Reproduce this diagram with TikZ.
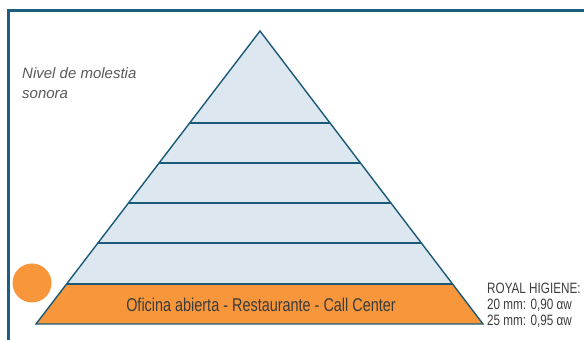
\documentclass[tikz,border=0pt]{standalone}
\usepackage{fontspec}
\setmainfont{Liberation Sans}
\newfontfamily\condfont[FakeStretch=0.78]{Liberation Sans}
\usetikzlibrary{calc}
\definecolor{frameblue}{HTML}{1B5E80}
\definecolor{lineblue}{HTML}{1A5A78}
\definecolor{paleblue}{HTML}{DCE7EF}
\definecolor{bandorange}{HTML}{F7963A}
\definecolor{textgray}{HTML}{3C3C3C}
\tikzset{
  layerline/.style={draw=lineblue, line width=1.4pt},
  condtext/.style={text=textgray, font=\condfont, inner sep=0pt}
}
\begin{document}
\begin{tikzpicture}[x=1pt, y=1pt]
\useasboundingbox (0,0) rectangle (584,340);
% frame
\draw[frameblue, line width=3pt] (8,0) -- (8,329) -- (584,329);
% pyramid corners
\coordinate (apex) at (260,309);
\coordinate (bl) at (36,16);
\coordinate (br) at (483,16);
\coordinate (l5) at ($(bl)!0.686!(apex)$);
\coordinate (r5) at ($(br)!0.686!(apex)$);
\coordinate (l4) at ($(bl)!0.5495!(apex)$);
\coordinate (r4) at ($(br)!0.5495!(apex)$);
\coordinate (l3) at ($(bl)!0.413!(apex)$);
\coordinate (r3) at ($(br)!0.413!(apex)$);
\coordinate (l2) at ($(bl)!0.2765!(apex)$);
\coordinate (r2) at ($(br)!0.2765!(apex)$);
\coordinate (l1) at ($(bl)!0.1365!(apex)$);
\coordinate (r1) at ($(br)!0.1365!(apex)$);
\fill[paleblue] (apex) -- (bl) -- (br) -- cycle;
\fill[bandorange] (l1) -- (bl) -- (br) -- (r1) -- cycle;
\draw[layerline, line join=miter] (apex) -- (bl) -- (br) -- cycle;
\draw[layerline] (l5) -- (r5);
\draw[layerline] (l4) -- (r4);
\draw[layerline] (l3) -- (r3);
\draw[layerline] (l2) -- (r2);
\draw[layerline] (l1) -- (r1);
% labels
\node[condtext, font=\condfont\fontsize{18.5}{22}\selectfont] (band) at (261,35) {Oficina abierta - Restaurante - Call Center};
\node[text=textgray!85, font=\itshape\fontsize{15}{20}\selectfont, align=left, anchor=north west, inner sep=0pt] (level) at (22,273) {Nivel de molestia\\sonora};
\fill[bandorange] (32,57) circle (19.5);
\node[condtext, font=\condfont\fontsize{15}{16}\selectfont, align=left, anchor=west] (royal) at (487,35) {ROYAL HIGIENE:\\20 mm: 0,90 αw\\25 mm: 0,95 αw};
\end{tikzpicture}
\end{document}
